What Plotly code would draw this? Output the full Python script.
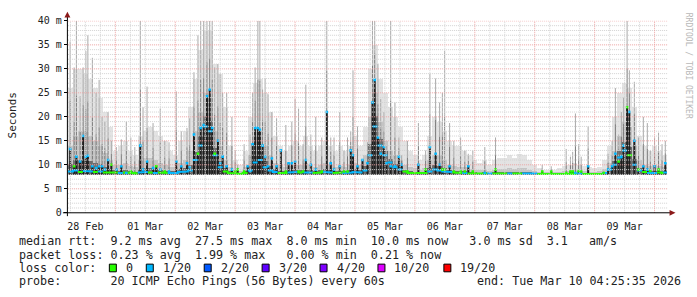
import plotly.graph_objects as go
import pandas as pd

# ---------------- data ----------------
origin = pd.Timestamp("2026-02-28 00:00")
x_start = "2026-02-28 05:00"
x_end = "2026-03-10 05:24"
bin_first_hour = 6          # centre of the first smoke bin, hours after origin
bin_hours = 2               # each smoke bin covers 2 h
rtt_min = 8.0               # ms, lower edge of the smoke

# upper edge of the light smoke (ms), one value per 2 h bin
smoke_top = [
    26, 30, 30, 29, 28, 26, 24, 21, 18,
    13, 14, 15, 13, 12, 16, 17, 18, 17, 16, 15, 13,
    12, 15, 17, 22, 28, 34, 38, 38, 31, 29, 22, 14,
    11, 10, 13, 20, 27, 28, 25, 21, 16, 14, 13, 14,
    15, 14, 16, 14, 13, 14, 15, 14, 13, 14, 13, 14,
    16, 14, 18, 30, 35, 28, 25, 22, 20, 18, 15, 13,
    12, 11, 12, 16, 20, 19, 17, 15, 14, 14, 13, 12,
    11, 10.5, 11, 10, 11, 11.5, 11.5, 12, 11.5, 12.3, 12, 11,
    10, 9.3, 9, 9, 9, 9.3, 9.8, 10, 10.5, 10, 9.8, 9.5,
    9.3, 9.5, 11, 14, 20, 25, 27, 26, 22, 16, 14, 13,
    14, 13, 12,
]
# upper edge of the medium-grey smoke (ms)
smoke_mid = [
    14, 16, 17, 17, 16, 15, 14, 12.5, 11,
    10, 10, 10.5, 9.8, 9.5, 11, 11.5, 11.5, 11, 10.5, 10, 9.5,
    9.5, 10.5, 11, 13, 17, 21, 25, 24, 17, 14, 11, 9.5,
    9, 8.8, 9.5, 12, 16, 17, 14, 12, 10.5, 10, 9.5, 9.8,
    10, 10, 10.5, 10, 9.5, 10, 10.5, 10, 9.5, 9.8, 9.5, 10,
    10.5, 10, 12, 20, 25, 19, 15, 13, 12, 11, 10, 9.5,
    9.3, 9, 9.3, 11, 12, 12, 11, 10, 9.8, 9.5, 9.5, 9.2,
    9, 8.9, 9, 8.8, 9, 9.2, 9.2, 9.3, 9.2, 9.4, 9.3, 9,
    8.8, 8.6, 8.5, 8.5, 8.5, 8.6, 8.7, 8.8, 9, 8.8, 8.7, 8.6,
    8.6, 8.7, 9.2, 10.5, 13, 16, 19, 18, 14, 11, 10, 9.8,
    10, 9.8, 9.5,
]
# median rtt (ms) per bin
median_rtt = [
    8.6, 8.8, 8.5, 8.7, 8.6, 8.5, 8.6, 8.4, 8.4,
    8.4, 8.3, 8.4, 8.3, 8.2, 8.4, 8.5, 8.4, 8.3, 8.4, 8.3, 8.3,
    8.3, 8.5, 8.6, 8.8, 11, 14, 18, 17, 12, 9.5, 8.6, 8.3,
    8.2, 8.1, 8.3, 8.8, 10.5, 11, 9.5, 8.8, 8.5, 8.3, 8.3, 8.4,
    8.5, 8.4, 8.4, 8.4, 8.3, 8.4, 8.5, 8.4, 8.3, 8.4, 8.3, 8.4,
    8.5, 8.4, 8.8, 12, 18, 14, 12, 10.5, 9.5, 9.0, 8.6, 8.3,
    8.2, 8.2, 8.3, 8.6, 9.0, 8.8, 8.6, 8.5, 8.4, 8.3, 8.3, 8.2,
    8.2, 8.2, 8.2, 8.2, 8.2, 8.2, 8.2, 8.2, 8.2, 8.2, 8.2, 8.2,
    8.2, 8.1, 8.1, 8.0, 8.0, 8.0, 8.1, 8.1, 8.1, 8.2, 8.1, 8.1,
    8.1, 8.1, 8.3, 9.0, 10, 11.5, 13, 12, 10, 8.8, 8.5, 8.3,
    8.3, 8.4, 8.4,
]
# lost pings per bin (0 -> "0", 1 -> "1/20")
median_loss = [
    1, 1, 0, 1, 1, 0, 1, 0, 0,
    0, 1, 0, 0, 0, 1, 1, 0, 1, 0, 0, 1,
    1, 1, 1, 1, 1, 1, 1, 1, 1, 1, 0, 0,
    0, 0, 0, 1, 1, 1, 1, 1, 1, 0, 0, 1,
    1, 0, 1, 1, 0, 0, 1, 1, 0, 0, 1, 1,
    1, 1, 1, 1, 1, 1, 1, 1, 1, 1, 0, 0,
    0, 0, 0, 1, 1, 1, 1, 1, 0, 0, 1, 0,
    0, 0, 0, 1, 0, 0, 0, 1, 0, 0, 1, 1,
    1, 0, 0, 0, 0, 0, 0, 0, 0, 1, 0, 0,
    0, 0, 1, 1, 1, 1, 1, 0, 1, 1, 0, 1,
    1, 0, 1,
]

# individual ping spikes: time (h after origin), highest ping, dark core top / median, lost pings
spike_hour = [
    5.9, 7.5, 8.4, 9.9, 11.1, 12.2, 13.0, 14.8, 16.3, 17.5, 18.7, 19.8, 21.1, 22.4,
    24.4, 26.4, 28.4, 30.2, 31.8, 34.0, 35.1, 36.7, 39.1, 40.4, 42.0, 43.8, 45.5,
    48.4, 50.4, 52.7, 53.8, 55.5, 57.1, 58.2, 59.4, 60.7, 61.8, 62.8, 63.8, 65.1, 66.0,
    67.0, 68.6, 70.7, 72.0, 73.0, 75.6, 77.0, 78.0, 79.0, 80.0, 81.1, 81.9, 83.0, 84.0,
    85.2, 86.7, 88.6, 90.3, 92.3, 93.4, 94.7, 96.0, 97.4, 99.2, 100.3, 102.3, 104.3,
    106.7, 108.7, 110.3, 111.6, 113.9, 115.6, 117.0, 118.3, 119.2, 121.0, 123.0,
    125.0, 127.0, 127.9, 129.2, 130.3, 131.6, 132.6, 134.3, 136.0, 137.6, 138.7, 141.0,
    145.4, 148.3, 150.0, 152.3, 153.9, 155.0, 155.9, 157.9, 159.6, 162.3, 164.0, 165.4,
    167.2, 172.0, 176.3, 195.0, 198.6, 204.6, 206.3, 207.2, 208.3, 209.6, 210.6, 213.4,
    219.6, 221.4, 223.0, 224.3, 225.6, 226.7, 227.6, 229.0, 229.9, 231.9, 233.6, 235.5,
    237.1, 238.3, 240.0, 241.6, 243.0, 244.3,
]
spike_peak = [
    35.7, 30.3, 40, 24.3, 30.3, 33.7, 37, 32.3, 25, 27.7, 20, 19, 21, 15,
    13.7, 15.3, 19, 15.7, 13.7, 40, 22, 26.3, 18.7, 9.7, 21.7, 15, 14.7,
    25.3, 17, 17.7, 19.7, 29.3, 37, 40, 40, 40, 40, 40, 30.3, 31, 29,
    25, 25, 20, 13, 10, 14.3, 10, 16.3, 25, 30.3, 40, 40, 25.7, 28,
    24.7, 21, 19.7, 13, 18.3, 10.3, 19, 23.7, 21.7, 14.3, 26.7, 16.3, 20,
    15.7, 40, 15.7, 15.7, 21, 13, 15.7, 17, 29.7, 18, 11,
    14.7, 40, 40, 31, 23.7, 21, 14, 40, 23, 15.7, 12, 15,
    18.7, 13, 29, 28, 23, 25, 33.7, 18.7, 15, 15.7, 13, 12.3,
    13, 13.7, 15.7, 10, 9.7, 13.3, 11.7, 12.7, 20.7, 14.3, 11.7, 18,
    8.7, 12.3, 15, 26, 16.3, 21, 24, 40, 29.7, 27.3, 15.7, 20,
    18.7, 13, 15.7, 16.7, 14.3, 15,
]
spike_core = [
    13.3, 9.7, 11.7, 10.7, 16.0, 11.7, 11.9, 9.7, 9.3, 9.7, 9.7, 9.0, 11, 10,
    9.0, 9.7, 8.3, 8.6, 8.3, 14, 9.0, 10.7, 9.3, 9.7, 9.0, 8.6, 8.6,
    10.7, 9.7, 10.3, 9.5, 16.3, 12.3, 17.7, 18.3, 24.3, 25.7, 17.7, 12.3, 15, 10.3,
    11.7, 9.7, 9.0, 8.6, 9.0, 8.6, 9.7, 8.7, 14.3, 17.7, 17.7, 17.3, 14, 11.7,
    9.7, 11.3, 9.7, 13, 8.6, 10.3, 10.3, 10.7, 8.6, 8.6, 11, 10, 9.0,
    8.6, 21, 10.3, 9.0, 9.7, 8.6, 8.6, 13, 12, 9.7, 11,
    10.3, 23, 27.7, 15.7, 12.3, 13.7, 10.3, 9.7, 9.7, 11.7, 10, 8.6,
    10, 9, 13.7, 12.3, 10, 9, 9, 9.7, 8.6, 8.6, 8.6, 9.7,
    8.6, 8.3, 9, 8.6, 8.6, 8.3, 8.6, 8.6, 8.3, 8.7, 8.6, 9.7,
    8.3, 9, 9.7, 12.3, 10.7, 11.7, 14, 22, 21, 15, 9, 9.7,
    9, 8.7, 9.7, 9, 8.3, 10.3,
]
spike_loss = [
    1, 0, 1, 1, 1, 1, 1, 1, 1, 1, 1, 1, 1, 0,
    1, 1, 1, 0, 0, 1, 1, 1, 1, 0, 1, 0, 1,
    1, 1, 1, 1, 1, 0, 1, 1, 1, 1, 1, 0, 1, 1,
    1, 1, 1, 0, 0, 0, 1, 1, 1, 1, 1, 1, 1, 1,
    1, 1, 1, 1, 0, 1, 1, 1, 0, 0, 1, 1, 1,
    0, 1, 1, 1, 1, 0, 0, 1, 1, 1, 1,
    1, 1, 1, 1, 1, 1, 1, 1, 1, 1, 1, 0,
    1, 0, 1, 1, 1, 0, 0, 1, 0, 0, 0, 1,
    0, 1, 0, 0, 0, 0, 0, 0, 1, 0, 0, 1,
    0, 1, 1, 1, 0, 1, 1, 0, 1, 1, 0, 1,
    1, 0, 1, 0, 0, 1,
]

day_labels = ["28 Feb", "01 Mar", "02 Mar", "03 Mar", "04 Mar",
              "05 Mar", "06 Mar", "07 Mar", "08 Mar", "09 Mar"]
y_ticks = [0, 5, 10, 15, 20, 25, 30, 35, 40]
y_tick_text = ["0", "5 m", "10 m", "15 m", "20 m", "25 m", "30 m", "35 m", "40 m"]
loss_labels = ["0", "1/20", "2/20", "3/20", "4/20", "10/20", "19/20"]
loss_colors = ["#26ff00", "#00b8ff", "#0059ff", "#5e00ff", "#7e00ff", "#dd00ff", "#ff0000"]

line_median = "median rtt:  9.2 ms avg  27.5 ms max  8.0 ms min  10.0 ms now   3.0 ms sd  3.1   am/s"
line_loss = "packet loss: 0.23 % avg  1.99 % max   0.00 % min  0.21 % now"
line_probe = "probe:       20 ICMP Echo Pings (56 Bytes) every 60s"
line_end = "end: Tue Mar 10 04:25:35 2026"

# ---------------- helpers ----------------
W, H = 697, 297


def at(hours):
    return (origin + pd.Timedelta(hours=hours)).strftime("%Y-%m-%d %H:%M:%S")


def px(x):
    return x / W


def py(y):
    return 1 - y / H


n_bins = len(smoke_top)
bin_centre = [bin_first_hour + bin_hours * i for i in range(n_bins)]
bin_x = [at(h) for h in bin_centre]
bin_w = bin_hours * 3600 * 1000

fig = go.Figure()

# smoke (light -> mid -> dark near median)
fig.add_trace(go.Bar(x=bin_x, y=[v - rtt_min for v in smoke_top], base=rtt_min, width=bin_w,
                     marker=dict(color="#e3e3e3", line=dict(width=0)), hoverinfo="skip"))
fig.add_trace(go.Bar(x=bin_x, y=[v - rtt_min for v in smoke_mid], base=rtt_min, width=bin_w,
                     marker=dict(color="#c4c4c4", line=dict(width=0)), hoverinfo="skip"))
dark_h = [max(m - rtt_min + 0.3 * (s - m), 0) for m, s in zip(median_rtt, smoke_mid)]
fig.add_trace(go.Bar(x=bin_x, y=dark_h, base=rtt_min, width=bin_w,
                     marker=dict(color="#6c6c6c", line=dict(width=0)), hoverinfo="skip"))

# spikes: grey stem fading towards the top, dark core near the median
lx, ly, ux, uy, dx, dy = [], [], [], [], [], []
for h, p, c in zip(spike_hour, spike_peak, spike_core):
    t = at(h)
    mid = c + 0.45 * (p - c)
    lx += [t, t, None]
    ly += [rtt_min, mid, None]
    ux += [t, t, None]
    uy += [mid, p, None]
    dx += [t, t, None]
    dy += [rtt_min, c, None]
fig.add_trace(go.Scatter(x=ux, y=uy, mode="lines", line=dict(color="#a9a9a9", width=1),
                         hoverinfo="skip"))
fig.add_trace(go.Scatter(x=lx, y=ly, mode="lines", line=dict(color="#777777", width=1),
                         hoverinfo="skip"))
fig.add_trace(go.Scatter(x=dx, y=dy, mode="lines", line=dict(color="#1e1e1e", width=2),
                         hoverinfo="skip"))

# median line, coloured by loss (no vertical connectors between steps)
for code in (0, 1):
    mx, my = [], []
    prev = None
    for i in range(n_bins):
        if median_loss[i] == code:
            if prev is not None and abs(median_rtt[i] - prev) > 0.35:
                mx.append(None)
                my.append(None)
            mx += [at(bin_centre[i] - bin_hours / 2), at(bin_centre[i] + bin_hours / 2)]
            my += [median_rtt[i], median_rtt[i]]
            prev = median_rtt[i]
        else:
            if prev is not None:
                mx.append(None)
                my.append(None)
            prev = None
    fig.add_trace(go.Scatter(x=mx, y=my, mode="lines", line=dict(color=loss_colors[code], width=2),
                             hoverinfo="skip"))

# medians of the spike steps
for code in (0, 1):
    sx = [at(h) for h, l in zip(spike_hour, spike_loss) if l == code]
    sy = [c for c, l in zip(spike_core, spike_loss) if l == code]
    fig.add_trace(go.Scatter(x=sx, y=sy, mode="markers",
                             marker=dict(symbol="square", size=2.6, color=loss_colors[code],
                                         line=dict(width=0)), hoverinfo="skip"))

# ---------------- grid (drawn above the data, like rrdtool) ----------------
shapes = []
MINOR = "#d2d2d2"
MAJOR = "#eca2a2"
for v in range(1, 41):
    col = MAJOR if v % 5 == 0 else MINOR
    shapes.append(dict(type="line", xref="x domain", yref="y", x0=0, x1=1, y0=v, y1=v,
                       line=dict(color=col, width=1, dash="1px,1px"), layer="above"))
for h in range(6, 241, 6):
    col = MAJOR if h % 24 == 0 else MINOR
    shapes.append(dict(type="line", xref="x", yref="y domain", x0=at(h), x1=at(h), y0=0, y1=1,
                       line=dict(color=col, width=1, dash="1px,1px"), layer="above"))

# axes with arrows
shapes.append(dict(type="line", xref="paper", yref="paper", x0=px(62), x1=px(670),
                   y0=py(215.5), y1=py(215.5), line=dict(color="#000000", width=1), layer="above"))
shapes.append(dict(type="line", xref="paper", yref="paper", x0=px(66.5), x1=px(66.5),
                   y0=py(219), y1=py(11), line=dict(color="#000000", width=1), layer="above"))
shapes.append(dict(type="path", xref="paper", yref="paper",
                   path=f"M {px(66.5)} {py(6)} L {px(63.5)} {py(12)} L {px(69.5)} {py(12)} Z",
                   fillcolor="#8b1a1a", line=dict(width=0), layer="above"))
shapes.append(dict(type="path", xref="paper", yref="paper",
                   path=f"M {px(675.5)} {py(215.5)} L {px(669.5)} {py(212.5)} L {px(669.5)} {py(218.5)} Z",
                   fillcolor="#8b1a1a", line=dict(width=0), layer="above"))

# loss colour legend boxes
box_left = [108.5, 145.5, 203.5, 261.5, 319.5, 377.5, 443.5]
ROW = [245, 259, 273, 287]
annotations = []
for bx, col, lab in zip(box_left, loss_colors, loss_labels):
    shapes.append(dict(type="rect", xref="paper", yref="paper", x0=px(bx), x1=px(bx + 7),
                       y0=py(ROW[2] + 4), y1=py(ROW[2] - 4), fillcolor=col,
                       line=dict(color="#000000", width=1), layer="above"))
    annotations.append(dict(xref="paper", yref="paper", x=px(bx + 14.5), y=py(ROW[2]),
                            xanchor="left", yanchor="middle", text=lab, showarrow=False,
                            font=dict(family="DejaVu Sans Mono", size=11.7, color="#222222")))

LEG = dict(family="DejaVu Sans Mono", size=11.7, color="#222222")
for txt, yy in ((line_median, ROW[0]), (line_loss, ROW[1]), ("loss color:", ROW[2]), (line_probe, ROW[3])):
    annotations.append(dict(xref="paper", yref="paper", x=px(16), y=py(yy), xanchor="left",
                            yanchor="middle", text=txt.replace(" ", "&nbsp;"), showarrow=False,
                            font=LEG))
annotations.append(dict(xref="paper", yref="paper", x=px(683), y=py(ROW[3]), xanchor="right",
                        yanchor="middle", text=line_end.replace(" ", "&nbsp;"), showarrow=False,
                        font=LEG))
annotations.append(dict(xref="paper", yref="paper", x=px(11), y=py(114), xanchor="center",
                        yanchor="middle", text="Seconds", textangle=-90, showarrow=False,
                        font=dict(family="DejaVu Sans Mono", size=11, color="#222222")))
annotations.append(dict(xref="paper", yref="paper", x=px(688), y=py(5), xanchor="center",
                        yanchor="top", text="RRDTOOL / TOBI OETIKER", textangle=90, showarrow=False,
                        font=dict(family="DejaVu Sans Mono", size=8, color="#b8b8b8")))

noon = [at(12 + 24 * k) for k in range(len(day_labels))]

fig.update_layout(
    width=W, height=H, margin=dict(l=0, r=0, t=0, b=0, pad=0),
    paper_bgcolor="#ffffff", plot_bgcolor="#ffffff",
    barmode="overlay", bargap=0, showlegend=False,
    font=dict(family="DejaVu Sans Mono", size=10, color="#222222"),
    xaxis=dict(type="date", range=[x_start, x_end], domain=[px(67), px(668)],
               showgrid=False, zeroline=False, showline=False,
               tickmode="array", tickvals=noon, ticktext=day_labels, ticks="",
               ticklabelstandoff=6,
               tickfont=dict(family="DejaVu Sans Mono", size=10, color="#222222")),
    yaxis=dict(range=[0, 40], domain=[py(215.5), py(15.5)],
               showgrid=False, zeroline=False, showline=False,
               tickmode="array", tickvals=y_ticks, ticktext=y_tick_text,
               ticks="outside", ticklen=3, tickcolor="#000000", tickwidth=1,
               tickfont=dict(family="DejaVu Sans Mono", size=10, color="#222222")),
    shapes=shapes, annotations=annotations,
)

fig.write_html("out.html")
